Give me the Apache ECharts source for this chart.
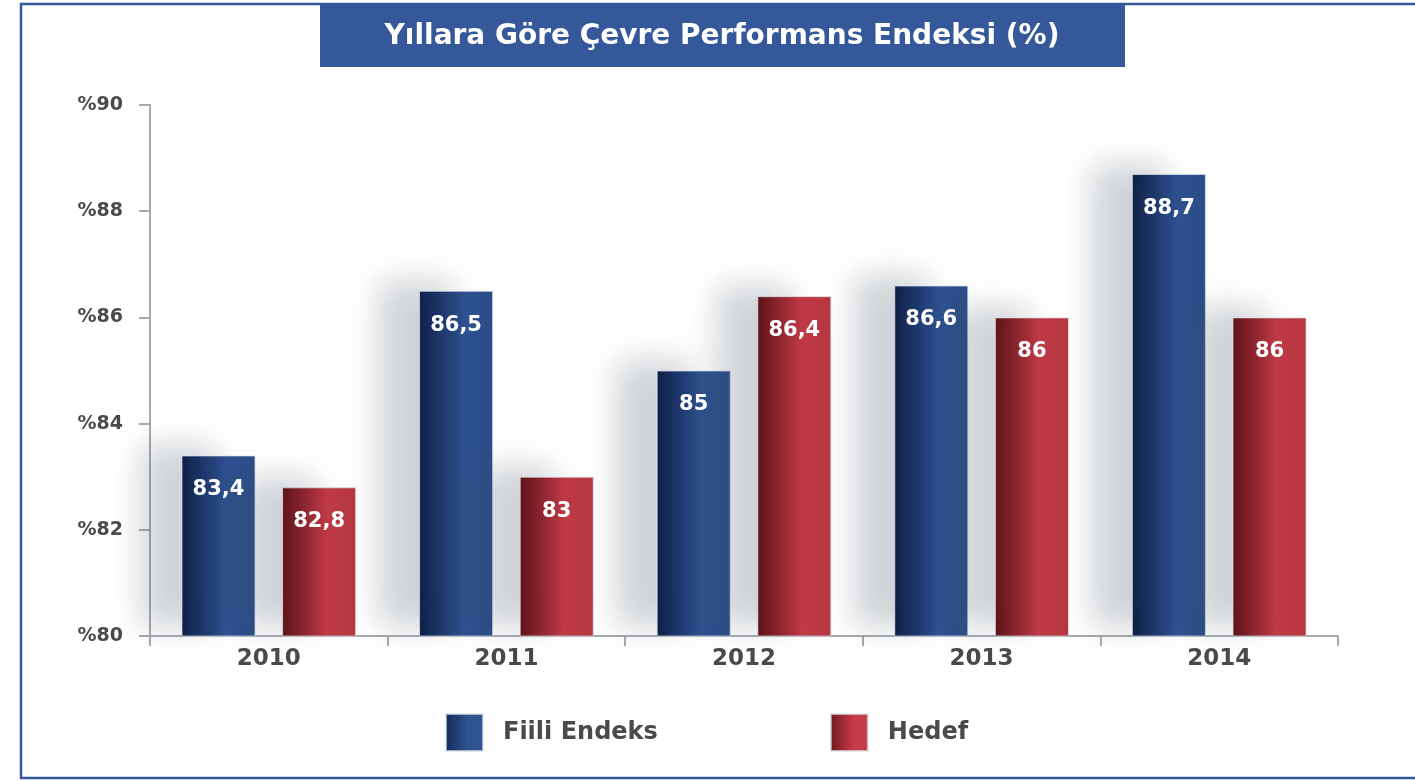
<!DOCTYPE html>
<html>
<head>
<meta charset="utf-8">
<script src="https://cdn.jsdelivr.net/npm/echarts@6/dist/echarts.min.js"></script>
<style>
  html, body { margin: 0; padding: 0; background: #fff; }
  #chart { width: 1415px; height: 781px; }
</style>
</head>
<body>
<div id="chart"></div>
<script>
// Yıllara göre çevre performans endeksi
var years = ['2010', '2011', '2012', '2013', '2014'];
var fiili = [83.4, 86.5, 85, 86.6, 88.7];
var hedef = [82.8, 83, 86.4, 86, 86];
var seriesNames = ['Fiili Endeks', 'Hedef'];
var yTicks = [80, 82, 84, 86, 88, 90];

(function () {
  var font = '"DejaVu Sans", "Open Sans", sans-serif';
  var blue = '#34589a';
  var textGray = '#4a4a4a';

  function grad(dark, mid, light) {
    return new echarts.graphic.LinearGradient(0, 0, 1, 0, [
      { offset: 0, color: dark },
      { offset: 0.6, color: mid },
      { offset: 1, color: light }
    ]);
  }
  var blueFill = grad('#0f2048', '#2e5190', '#2b4c88');
  var redFill = grad('#5e131a', '#bf3a46', '#b5363f');
  var blueIcon = grad('#13295a', '#30548f', '#30548f');
  var redIcon = grad('#6e1820', '#c53b48', '#c53b48');

  var barStyle = {
    shadowColor: 'rgba(70, 85, 100, 0.26)',
    shadowBlur: 32,
    shadowOffsetX: -40,
    shadowOffsetY: -10,
    borderColor: 'rgba(220,225,235,0.7)',
    borderWidth: 1
  };

  var label = {
    show: true,
    position: 'insideTop',
    distance: 24,
    color: '#fff',
    fontFamily: font,
    fontWeight: 700,
    fontSize: 21,
    formatter: function (p) { return String(p.value).replace('.', ','); }
  };

  var chart = echarts.init(document.getElementById('chart'), null, { renderer: 'canvas' });
  chart.setOption({
    animation: false,
    graphic: [
      {
        type: 'rect', z: 0,
        shape: { x: 21, y: 4, width: 1420, height: 774 },
        style: { fill: 'none', stroke: blue, lineWidth: 2.5 }
      },
      {
        type: 'rect', z: 1,
        shape: { x: 320, y: 5, width: 805, height: 62 },
        style: { fill: blue }
      },
      {
        type: 'text', z: 2, x: 722, y: 37,
        style: {
          text: 'Yıllara Göre Çevre Performans Endeksi (%)',
          fill: '#fff', font: '700 28px ' + font,
          align: 'center', verticalAlign: 'middle'
        }
      }
    ],
    legend: {
      bottom: 24,
      left: 440,
      itemWidth: 37,
      itemHeight: 37,
      itemGap: 172,
      icon: 'rect',
      textStyle: { color: textGray, fontFamily: font, fontWeight: 700, fontSize: 24, padding: [0, 0, 0, 15] },
      data: [
        { name: seriesNames[0], itemStyle: { color: blueIcon } },
        { name: seriesNames[1], itemStyle: { color: redIcon } }
      ]
    },
    grid: { left: 150, right: 77, top: 105, bottom: 145 },
    xAxis: {
      type: 'category',
      data: years,
      axisLine: { lineStyle: { color: '#a7a9ad', width: 2 } },
      axisTick: { show: true, length: 10, lineStyle: { color: '#a7a9ad', width: 2 } },
      axisLabel: { color: textGray, fontFamily: font, fontWeight: 700, fontSize: 23, margin: 12 }
    },
    yAxis: {
      type: 'value',
      min: yTicks[0],
      max: yTicks[yTicks.length - 1],
      interval: 2,
      axisLine: { show: true, lineStyle: { color: '#a7a9ad', width: 2 } },
      axisTick: { show: true, length: 11, lineStyle: { color: '#a7a9ad', width: 2 } },
      splitLine: { show: false },
      axisLabel: {
        color: textGray, fontFamily: font, fontWeight: 700, fontSize: 19, margin: 27,
        formatter: function (v) { return '%' + v; }
      }
    },
    series: [
      {
        name: seriesNames[0], type: 'bar', data: fiili,
        barWidth: 74, barGap: '36%',
        itemStyle: Object.assign({ color: blueFill }, barStyle),
        label: label
      },
      {
        name: seriesNames[1], type: 'bar', data: hedef,
        barWidth: 74,
        itemStyle: Object.assign({ color: redFill }, barStyle),
        label: label
      }
    ]
  });
})();
</script>
</body>
</html>
